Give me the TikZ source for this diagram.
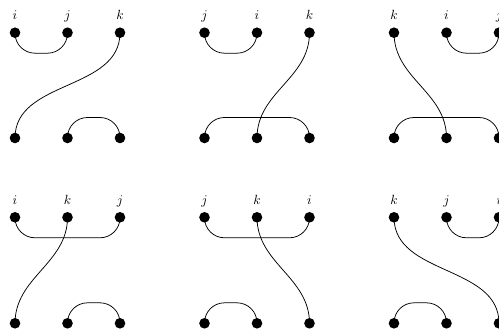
\documentclass[tikz,border=0pt]{standalone}
\begin{document}
\begin{tikzpicture}[x=1pt,y=-1pt,
  dot/.style={circle,fill=black,inner sep=0pt,minimum size=10.6pt},
  lab/.style={scale=1.33,anchor=base,inner sep=0pt},
  strand/.style={line width=0.75pt},
  capr/.style={strand,rounded corners=20pt},
  scurve/.style={strand,out=-90,in=90}]
\useasboundingbox (0,0) rectangle (499,332);
% ---------- Panel 1 ----------
\node[dot] (a1) at (15,32.7) {};   \node[dot] (a2) at (67.5,32.7) {};  \node[dot] (a3) at (120,32.7) {};
\node[dot] (a4) at (15,138) {};    \node[dot] (a5) at (67.5,138) {};   \node[dot] (a6) at (120,138) {};
\node[lab] (la1) at (15,19.5) {$i$}; \node[lab] (la2) at (67.5,19.5) {$j$}; \node[lab] (la3) at (120,19.5) {$k$};
\draw[capr] (a1.center) -- ++(0,20.5) -| (a2.center);
\draw[scurve] (a3.center) to (a4.center);
\draw[capr] (a5.center) -- ++(0,-20.5) -| (a6.center);
% ---------- Panel 2 ----------
\node[dot] (b1) at (204.5,32.7) {}; \node[dot] (b2) at (257,32.7) {}; \node[dot] (b3) at (309.5,32.7) {};
\node[dot] (b4) at (204.5,138) {};  \node[dot] (b5) at (257,138) {};  \node[dot] (b6) at (309.5,138) {};
\node[lab] (lb1) at (204.5,19.5) {$j$}; \node[lab] (lb2) at (257,19.5) {$i$}; \node[lab] (lb3) at (309.5,19.5) {$k$};
\draw[capr] (b1.center) -- ++(0,20.5) -| (b2.center);
\draw[scurve] (b3.center) to (b5.center);
\draw[capr] (b4.center) -- ++(0,-20.5) -| (b6.center);
% ---------- Panel 3 ----------
\node[dot] (c1) at (394,32.7) {}; \node[dot] (c2) at (446.5,32.7) {}; \node[dot] (c3) at (499,32.7) {};
\node[dot] (c4) at (394,138) {};  \node[dot] (c5) at (446.5,138) {};  \node[dot] (c6) at (499,138) {};
\node[lab] (lc1) at (394,19.5) {$k$}; \node[lab] (lc2) at (446.5,19.5) {$i$}; \node[lab] (lc3) at (499,19.5) {$j$};
\draw[capr] (c2.center) -- ++(0,20.5) -| (c3.center);
\draw[scurve] (c1.center) to (c5.center);
\draw[capr] (c4.center) -- ++(0,-20.5) -| (c6.center);
% ---------- Panel 4 ----------
\node[dot] (d1) at (15,217.3) {};  \node[dot] (d2) at (67.5,217.3) {}; \node[dot] (d3) at (120,217.3) {};
\node[dot] (d4) at (15,323.3) {};  \node[dot] (d5) at (67.5,323.3) {}; \node[dot] (d6) at (120,323.3) {};
\node[lab] (ld1) at (15,204.2) {$i$}; \node[lab] (ld2) at (67.5,204.2) {$k$}; \node[lab] (ld3) at (120,204.2) {$j$};
\draw[capr] (d1.center) -- ++(0,20.5) -| (d3.center);
\draw[scurve] (d2.center) to (d4.center);
\draw[capr] (d5.center) -- ++(0,-20.5) -| (d6.center);
% ---------- Panel 5 ----------
\node[dot] (e1) at (204.5,217.3) {}; \node[dot] (e2) at (257,217.3) {}; \node[dot] (e3) at (309.5,217.3) {};
\node[dot] (e4) at (204.5,323.3) {}; \node[dot] (e5) at (257,323.3) {}; \node[dot] (e6) at (309.5,323.3) {};
\node[lab] (le1) at (204.5,204.2) {$j$}; \node[lab] (le2) at (257,204.2) {$k$}; \node[lab] (le3) at (309.5,204.2) {$i$};
\draw[capr] (e1.center) -- ++(0,20.5) -| (e3.center);
\draw[scurve] (e2.center) to (e6.center);
\draw[capr] (e4.center) -- ++(0,-20.5) -| (e5.center);
% ---------- Panel 6 ----------
\node[dot] (f1) at (394,217.3) {}; \node[dot] (f2) at (446.5,217.3) {}; \node[dot] (f3) at (499,217.3) {};
\node[dot] (f4) at (394,323.3) {}; \node[dot] (f5) at (446.5,323.3) {}; \node[dot] (f6) at (499,323.3) {};
\node[lab] (lf1) at (394,204.2) {$k$}; \node[lab] (lf2) at (446.5,204.2) {$j$}; \node[lab] (lf3) at (499,204.2) {$i$};
\draw[capr] (f2.center) -- ++(0,20.5) -| (f3.center);
\draw[scurve] (f1.center) to (f6.center);
\draw[capr] (f4.center) -- ++(0,-20.5) -| (f5.center);
\end{tikzpicture}
\end{document}
